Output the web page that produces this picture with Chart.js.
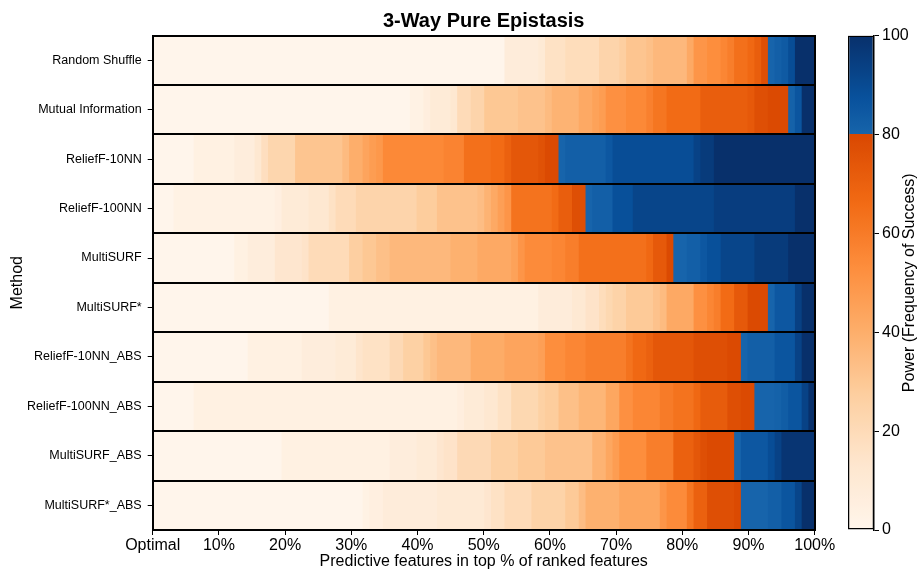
<!DOCTYPE html>
<html>
<head>
<meta charset="utf-8">
<script src="https://cdn.jsdelivr.net/npm/chart.js@4.4.1/dist/chart.umd.min.js"></script>
<style>
  html, body { margin: 0; padding: 0; background: #fff; }
  #wrap { position: relative; width: 921px; height: 570px; }
  #heat { position: absolute; left: 0; top: 0; }
  #scaleBar { position: absolute; left: 830px; top: 0; }
</style>
</head>
<body>
<div id="wrap">
  <canvas id="heat" width="921" height="570"></canvas>
  <canvas id="scaleBar" width="91" height="570"></canvas>
</div>
<script>
// Feature-selection methods, top to bottom
const methods = [
  'Random Shuffle', 'Mutual Information', 'ReliefF-10NN', 'ReliefF-100NN', 'MultiSURF',
  'MultiSURF*', 'ReliefF-10NN_ABS', 'ReliefF-100NN_ABS', 'MultiSURF_ABS', 'MultiSURF*_ABS'
];

// Number of ranked-feature columns along the x axis
const COLUMNS = 98;

// x axis ticks (percent of ranked features) and their labels
const xTickValues = [0, 10, 20, 30, 40, 50, 60, 70, 80, 90, 100];
const xTickLabels = ['Optimal', '10%', '20%', '30%', '40%', '50%', '60%', '70%', '80%', '90%', '100%'];

// colour bar ticks (power, %)
const powerTicks = [0, 20, 40, 60, 80, 100];

// Power per method as runs: [first column of the run, power %]; a run lasts until the next one starts
const randomShuffle = [[0,0],[52,8],[57,10],[58,16],[61,19],[66,24],[69,27],[70,31],[73,33],[74,36],[79,42],[80,50],[82,53],[84,56],[85,59],[86,64],[88,67],[89,71],[90,77],[91,80],[92,82],[93,84],[94,89],[95,100]];
const mutualInformation = [[0,0],[38,3],[40,6],[41,9],[44,12],[45,20],[47,24],[49,30],[54,32],[58,35],[59,38],[63,42],[65,45],[66,47],[67,52],[70,55],[73,58],[74,62],[76,66],[81,71],[88,73],[89,77],[91,79],[94,81],[95,86],[96,100]];
const reliefF10 = [[0,0],[6,4],[12,7],[15,12],[16,18],[17,23],[21,31],[28,35],[29,40],[31,44],[32,47],[33,49],[34,55],[43,57],[46,64],[50,66],[52,70],[53,74],[57,76],[58,79],[60,80],[61,82],[67,85],[68,89],[80,93],[81,96],[83,100]];
const reliefF100 = [[0,0],[3,3],[18,5],[19,9],[23,12],[26,16],[27,20],[30,24],[39,28],[42,32],[48,34],[49,38],[50,42],[51,46],[52,50],[53,63],[59,66],[60,71],[62,77],[64,80],[65,82],[68,88],[71,92],[83,95],[95,100]];
const multiSURF = [[0,0],[12,4],[14,7],[18,13],[22,15],[23,20],[29,27],[31,30],[33,33],[35,36],[44,39],[48,42],[53,45],[54,50],[55,54],[59,56],[61,59],[63,64],[73,67],[74,73],[76,79],[77,80],[79,82],[81,85],[82,88],[84,92],[89,96],[94,100]];
const multiSURFStar = [[0,0],[26,4],[57,8],[62,11],[64,15],[66,19],[67,22],[68,25],[70,29],[74,32],[75,35],[76,42],[80,52],[82,56],[83,59],[84,66],[86,73],[88,79],[91,80],[92,85],[95,94],[96,100]];
const reliefF10Abs = [[0,0],[14,4],[22,7],[27,9],[30,14],[31,16],[35,21],[37,26],[40,30],[41,33],[42,36],[47,41],[52,44],[57,46],[58,53],[61,56],[64,59],[70,63],[71,67],[73,70],[74,74],[80,77],[85,79],[87,80],[88,82],[92,86],[95,93],[96,100]];
const reliefF100Abs = [[0,0],[6,4],[45,6],[46,9],[49,12],[51,16],[53,22],[57,26],[58,28],[60,33],[63,37],[67,43],[69,52],[71,56],[75,60],[77,63],[80,67],[81,72],[85,77],[87,79],[89,80],[92,81],[93,83],[94,86],[96,93],[97,100]];
const multiSURFAbs = [[0,0],[19,4],[35,7],[39,9],[42,13],[43,15],[45,21],[50,26],[54,29],[58,32],[65,38],[67,43],[68,47],[69,53],[73,59],[77,70],[80,74],[81,77],[82,79],[86,80],[87,85],[91,89],[92,93],[93,98]];
const multiSURFStarAbs = [[0,0],[31,3],[32,5],[34,8],[42,10],[49,13],[50,16],[52,20],[56,25],[61,29],[63,34],[64,39],[69,43],[75,50],[76,54],[79,62],[80,70],[82,77],[86,79],[87,80],[91,82],[93,86],[95,92],[96,100]];

const powerRuns = [randomShuffle, mutualInformation, reliefF10, reliefF100, multiSURF,
                   multiSURFStar, reliefF10Abs, reliefF100Abs, multiSURFAbs, multiSURFStarAbs];

// ---- colour map: oranges below 80 % power, blues from 80 % up ----
const ORANGES = ['#fff5eb','#fee6ce','#fdd0a2','#fdae6b','#fd8d3c','#f16913','#d94801','#a63603','#7f2704'];
const BLUES   = ['#f7fbff','#deebf7','#c6dbef','#9ecae1','#6baed6','#4292c6','#2171b5','#08519c','#08306b'];

function hexToRgb(h) {
  const n = parseInt(h.slice(1), 16);
  return [(n >> 16) & 255, (n >> 8) & 255, n & 255];
}
function sampleMap(stops, t) {
  const n = stops.length - 1;
  const p = Math.min(Math.max(t, 0), 1) * n;
  const i = Math.min(Math.floor(p), n - 1);
  const f = p - i;
  const a = hexToRgb(stops[i]), b = hexToRgb(stops[i + 1]);
  const c = a.map((v, k) => Math.round(v + (b[k] - v) * f));
  return `rgb(${c[0]},${c[1]},${c[2]})`;
}
function powerColor(v) {
  return v < 80 ? sampleMap(ORANGES, v / 80 * 0.75) : sampleMap(BLUES, 0.8 + (v - 80) / 100);
}

Chart.defaults.font.family = '"Liberation Sans", Arial, Helvetica, sans-serif';
Chart.defaults.color = '#000';

// ---- heat map: each run is a floating horizontal bar ----
const maxRuns = Math.max(...powerRuns.map(r => r.length));
const datasets = [];
for (let k = 0; k < maxRuns; k++) {
  datasets.push({
    data: powerRuns.map(r => {
      if (!r[k]) return null;
      const end = k + 1 < r.length ? r[k + 1][0] : COLUMNS;
      return [r[k][0] * 100 / COLUMNS, end * 100 / COLUMNS];
    }),
    backgroundColor: powerRuns.map(r => r[k] ? powerColor(r[k][1]) : 'rgba(0,0,0,0)'),
    borderWidth: 0,
    grouped: false,
    barPercentage: 1,
    categoryPercentage: 1,
    inflateAmount: 0.5
  });
}

new Chart(document.getElementById('heat'), {
  type: 'bar',
  data: { labels: methods, datasets },
  options: {
    indexAxis: 'y',
    responsive: false,
    animation: false,
    devicePixelRatio: 1,
    layout: { padding: { left: 0, right: 106.3, top: 0, bottom: 0 } },
    plugins: {
      legend: { display: false },
      tooltip: { enabled: false },
      title: {
        display: true,
        text: '3-Way Pure Epistasis',
        fullSize: false,
        color: '#000',
        font: { size: 20, weight: 'bold', lineHeight: 1.2 },
        padding: { top: 9.5, bottom: 2 }
      }
    },
    scales: {
      x: {
        type: 'linear',
        position: 'bottom',
        min: 0,
        max: 100,
        afterBuildTicks: s => { s.ticks = xTickValues.map(v => ({ value: v })); },
        ticks: {
          autoSkip: false,
          maxRotation: 0,
          padding: 1,
          font: { size: 16 },
          color: '#000',
          callback: v => xTickLabels[xTickValues.indexOf(v)]
        },
        grid: { drawOnChartArea: false, tickLength: 5, color: '#000', lineWidth: 1, z: 1 },
        border: { display: true, color: '#000', width: 2, z: 1 },
        title: {
          display: true,
          text: 'Predictive features in top % of ranked features',
          color: '#000',
          font: { size: 16, lineHeight: 1.0 },
          padding: { top: 0, bottom: 0 }
        },
        afterFit: s => { s.height = 40; }
      },
      y: {
        type: 'category',
        position: 'left',
        offset: true,
        ticks: { autoSkip: false, padding: 6, font: { size: 12.5 }, color: '#000' },
        grid: { offset: false, drawOnChartArea: false, tickLength: 5, color: '#000', z: 1 },
        border: { display: true, color: '#000', width: 2, z: 1 },
        title: {
          display: true,
          text: 'Method',
          color: '#000',
          font: { size: 16, lineHeight: 1.2 },
          padding: { top: 8.4, bottom: 0 }
        },
        afterFit: s => { s.width = 152.7; }
      },
      rowLines: {
        type: 'category',
        position: 'right',
        offset: true,
        ticks: { display: false },
        grid: { offset: true, drawTicks: false, color: '#000', lineWidth: 2, z: 1 },
        border: { display: true, color: '#000', width: 2, z: 1 },
        afterFit: s => { s.width = 0; }
      }
    }
  }
});

// ---- colour bar ----
function colorbarFill(ctx) {
  const area = ctx.chart.chartArea;
  if (!area) return null;
  const g = ctx.chart.ctx.createLinearGradient(0, area.bottom, 0, area.top);
  for (let v = 0; v <= 100; v += 1) {
    if (v === 80) g.addColorStop(0.8, powerColor(79.999));
    g.addColorStop(v / 100, powerColor(v));
  }
  return g;
}

const colorbarTitle = {
  id: 'colorbarTitle',
  afterDraw(chart) {
    const { ctx, chartArea } = chart;
    ctx.save();
    ctx.fillStyle = '#000';
    ctx.font = '16px "Liberation Sans", Arial, Helvetica, sans-serif';
    ctx.textAlign = 'center';
    ctx.textBaseline = 'middle';
    ctx.translate(80, (chartArea.top + chartArea.bottom) / 2);
    ctx.rotate(-Math.PI / 2);
    ctx.fillText('Power (Frequency of Success)', 0, 0);
    ctx.restore();
  }
};

new Chart(document.getElementById('scaleBar'), {
  type: 'bar',
  data: {
    labels: [''],
    datasets: [{
      data: [[0, 100]],
      backgroundColor: colorbarFill,
      borderColor: '#000',
      borderWidth: 1.5,
      borderSkipped: false,
      barPercentage: 1,
      categoryPercentage: 1,
      inflateAmount: 0
    }]
  },
  options: {
    responsive: false,
    animation: false,
    devicePixelRatio: 1,
    layout: { padding: { left: 18, right: 0, top: 35.5, bottom: 40 } },
    plugins: { legend: { display: false }, tooltip: { enabled: false } },
    scales: {
      x: { display: false },
      y: {
        position: 'right',
        min: 0,
        max: 100,
        afterBuildTicks: s => { s.ticks = powerTicks.map(v => ({ value: v })); },
        ticks: { padding: 3, font: { size: 16 }, color: '#000' },
        grid: { drawOnChartArea: false, tickLength: 5, color: '#000', z: 1 },
        border: { display: true, color: '#000', width: 1.5, z: 1 },
        afterFit: s => { s.width = 47; }
      }
    }
  },
  plugins: [colorbarTitle]
});
</script>
</body>
</html>
